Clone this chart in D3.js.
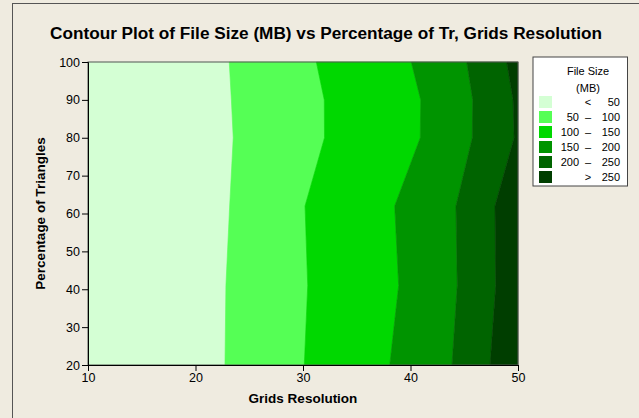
<!DOCTYPE html>
<html><head><meta charset="utf-8">
<script src="https://cdn.jsdelivr.net/npm/d3@7"></script>
<style>body{margin:0;background:#efebe0;}svg{display:block;}</style>
</head><body>
<script>
// ---- data ----
const percentLevels = [100, 90, 80, 62, 41, 20];           // Percentage of Triangles (vertex rows)
const thresholds = [50, 100, 150, 200, 250];                // File size contour levels (MB)
// Grids Resolution where File Size equals each threshold, at each percentage row
const boundary50  = [23.14, 23.34, 23.51, 23.18, 22.83, 22.74];
const boundary100 = [31.24, 31.98, 32.00, 30.19, 30.44, 30.12];
const boundary150 = [40.07, 40.95, 40.91, 38.53, 38.90, 38.07];
const boundary200 = [45.23, 45.79, 45.75, 44.23, 44.35, 43.86];
const boundary250 = [48.95, 49.54, 49.64, 47.86, 47.93, 47.40];
const bandLabels = [["", "<", "50"], ["50", "\u2013", "100"], ["100", "\u2013", "150"],
                    ["150", "\u2013", "200"], ["200", "\u2013", "250"], ["", ">", "250"]];
const bandColors = ["#d4ffd4", "#55ff55", "#00d800", "#009400", "#006400", "#003e00"];
const xTicks = [10, 20, 30, 40, 50];
const yTicks = [20, 30, 40, 50, 60, 70, 80, 90, 100];

const W = 639, H = 418;
const svg = d3.select("body").append("svg").attr("width", W).attr("height", H);
svg.append("rect").attr("x", 12.5).attr("y", 3.5).attr("width", 700).attr("height", 500)
  .attr("fill", "#efebe0").attr("stroke", "#555").attr("stroke-width", 1);

const x = d3.scaleLinear().domain([10, 50]).range([88, 518]);
const y = d3.scaleLinear().domain([20, 100]).range([365, 62]);

const boundaries = [boundary50, boundary100, boundary150, boundary200, boundary250];
const minEdge = percentLevels.map(() => 10);
const maxEdge = percentLevels.map(() => 50);
const edges = [minEdge, ...boundaries, maxEdge];

const area = d3.area()
  .y((d, i) => y(percentLevels[i]))
  .x0((d, i) => x(d[0]))
  .x1((d, i) => x(d[1]));

const g = svg.append("g");
for (let b = 0; b < 6; b++) {
  const pts = percentLevels.map((p, i) => [edges[b][i], edges[b + 1][i]]);
  g.append("path").attr("d", area(pts)).attr("fill", bandColors[b])
    .attr("stroke", bandColors[b]).attr("stroke-width", 0.6);
}
// plot frame
svg.append("rect").attr("x", x(10)).attr("y", y(100)).attr("width", x(50) - x(10)).attr("height", y(20) - y(100))
  .attr("fill", "none").attr("stroke", "#555").attr("stroke-width", 1);

const font = "Tahoma, 'DejaVu Sans', 'Liberation Sans', sans-serif";
const xAxis = svg.append("g").attr("transform", `translate(0,${y(20)})`)
  .call(d3.axisBottom(x).tickValues(xTicks).tickSize(6).tickPadding(2).tickFormat(d3.format("d")));
const yAxis = svg.append("g").attr("transform", `translate(${x(10)},0)`)
  .call(d3.axisLeft(y).tickValues(yTicks).tickSize(6).tickPadding(2).tickFormat(d3.format("d")));
[xAxis, yAxis].forEach(a => {
  a.selectAll("text").attr("font-family", "'Liberation Sans', Arial, sans-serif").attr("font-size", 12.5).attr("fill", "#000");
  a.selectAll("line").attr("stroke", "#000");
  a.select(".domain").attr("stroke", "#000");
});

svg.append("text").attr("x", 326).attr("y", 39).attr("text-anchor", "middle")
  .attr("font-family", "'Liberation Sans', Arial, sans-serif").attr("font-weight", "bold").attr("font-size", 16)
  .attr("textLength", 552).attr("lengthAdjust", "spacingAndGlyphs")
  .text("Contour Plot of File Size (MB) vs Percentage of Tr, Grids Resolution");
svg.append("text").attr("x", 303).attr("y", 403).attr("text-anchor", "middle")
  .attr("font-family", "'Liberation Sans', Arial, sans-serif").attr("font-weight", "bold").attr("font-size", 13.5)
  .text("Grids Resolution");
svg.append("text").attr("transform", `translate(45,${y(60)}) rotate(-90)`).attr("text-anchor", "middle")
  .attr("font-family", "'Liberation Sans', Arial, sans-serif").attr("font-weight", "bold").attr("font-size", 13.5)
  .text("Percentage of Triangles");

// legend
const lg = svg.append("g");
lg.append("rect").attr("x", 533).attr("y", 57).attr("width", 94.5).attr("height", 129)
  .attr("fill", "#fff").attr("stroke", "#444").attr("stroke-width", 1);
const lf = "'Liberation Sans', Arial, sans-serif";
lg.append("text").attr("x", 588).attr("y", 75).attr("text-anchor", "middle").attr("font-family", lf).attr("font-size", 11).text("File Size");
lg.append("text").attr("x", 588).attr("y", 92).attr("text-anchor", "middle").attr("font-family", lf).attr("font-size", 11).text("(MB)");
bandLabels.forEach((lab, i) => {
  const cy = 102 + i * 15;
  lg.append("rect").attr("x", 539).attr("y", cy - 6).attr("width", 13).attr("height", 12).attr("fill", bandColors[i]);
  lg.append("text").attr("x", 579).attr("y", cy + 4).attr("text-anchor", "end").attr("font-family", lf).attr("font-size", 11).text(lab[0]);
  lg.append("text").attr("x", 588).attr("y", cy + 4).attr("text-anchor", "middle").attr("font-family", lf).attr("font-size", 11).text(lab[1]);
  lg.append("text").attr("x", 620).attr("y", cy + 4).attr("text-anchor", "end").attr("font-family", lf).attr("font-size", 11).text(lab[2]);
});
</script>
</body></html>
